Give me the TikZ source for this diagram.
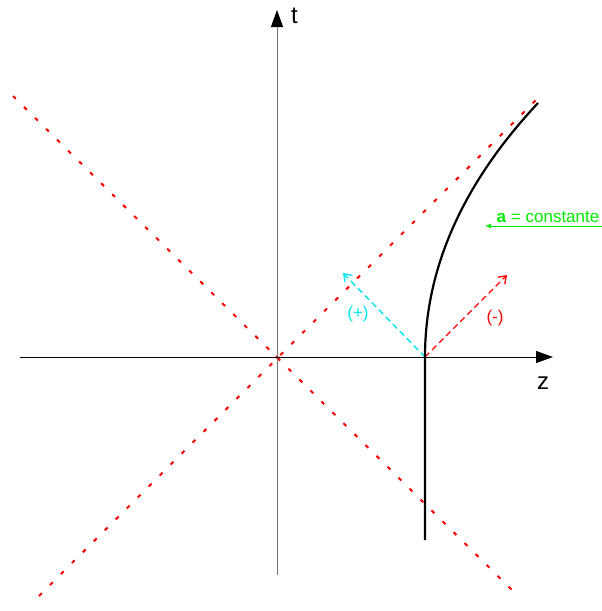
\documentclass[tikz,border=0pt]{standalone}
\usepackage{fontspec}
\setmainfont{Liberation Sans}
\usetikzlibrary{arrows.meta}
\definecolor{cyanc}{RGB}{0,230,240}
\definecolor{greenc}{RGB}{0,235,0}
\definecolor{redc}{RGB}{255,0,0}
\tikzset{
  axis/.style={line width=1pt,-{Triangle[length=17pt,width=12pt,color=black]}},
  cone/.style={redc,line width=2pt,dash pattern=on 4pt off 11.5pt},
  vecp/.style={cyanc,line width=1.4pt,dash pattern=on 6pt off 4pt,-{Straight Barb[length=7pt,width=10pt,line width=1.3pt]}},
  vecm/.style={redc,line width=1.4pt,dash pattern=on 6pt off 4pt,-{Straight Barb[length=7pt,width=10pt,line width=1.3pt]}},
  world/.style={black,line width=2.2pt},
  lbl/.style={inner sep=0pt,font=\fontsize{24}{24}\selectfont},
  small/.style={inner sep=0pt,font=\fontsize{17}{17}\selectfont}
}
\begin{document}
\begin{tikzpicture}[x=1pt,y=-1pt]
\useasboundingbox (0,0) rectangle (602,611);
% coordinates
\coordinate (O) at (277,357);
\coordinate (E) at (425,357);
\coordinate (tb) at (277,575);
\coordinate (tt) at (277,10);
\coordinate (zl) at (20,357);
\coordinate (zr) at (553,357);
\coordinate (c1a) at (13,96);
\coordinate (c1b) at (518,596);
\coordinate (c2a) at (39,596);
\coordinate (c2b) at (541,95);
\coordinate (wb) at (425,540);
\coordinate (wt) at (538,103);
\coordinate (pp) at (343,273);
\coordinate (pm) at (507,275);
\coordinate (ga) at (602,226);
\coordinate (gb) at (485,226);
% light cone
\draw[cone] (c1a) -- (c1b);
\draw[cone] (c2a) -- (c2b);
\fill[redc] (O) circle (1.8pt);
% axes
\draw[axis,draw=black!55] (tb) -- (tt);
\draw[axis] (zl) -- (zr);
\node[lbl,anchor=south west] (tlab) at (291,24) {t};
\node[lbl,anchor=south west] (zlab) at (537,390) {z};
% vectors
\draw[vecp] (E) -- (pp);
\draw[vecm] (E) -- (pm);
\node[small,cyanc] (plab) at (358,314) {(+)};
\node[small,redc] (mlab) at (495,318) {(-)};
% world line
\draw[world] (wb) -- (E) .. controls (425,250) and (480,165) .. (wt);
% label
\draw[greenc,line width=1pt,-{Latex[length=6pt,width=5pt]}] (ga) -- (gb);
\node[small,greenc,anchor=south] (alab) at (548,223) {\textbf{a} = constante};
\end{tikzpicture}
\end{document}
